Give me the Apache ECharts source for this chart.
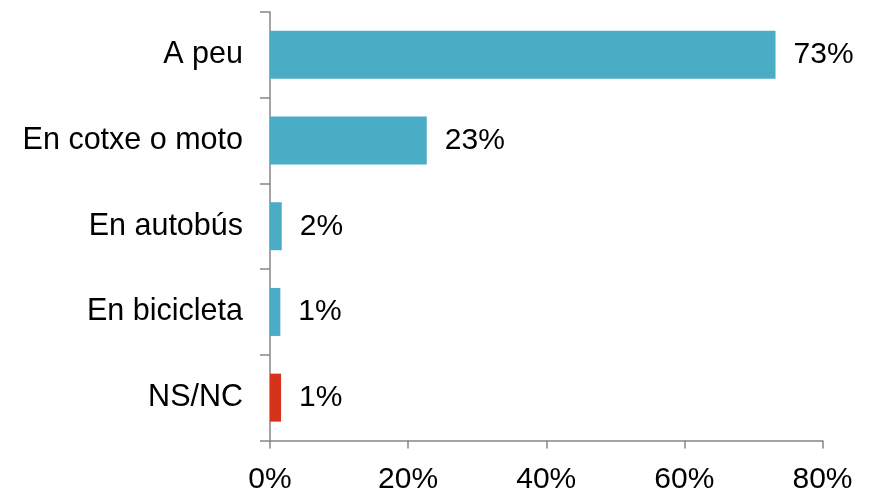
<!DOCTYPE html>
<html>
<head>
<meta charset="utf-8">
<script src="https://cdn.jsdelivr.net/npm/echarts@6/dist/echarts.min.js"></script>
<style>
html,body{margin:0;padding:0;background:#fff;}
#chart{width:873px;height:489px;}
</style>
</head>
<body>
<div id="chart"></div>
<script>
var categories = ['A peu', 'En cotxe o moto', 'En autobús', 'En bicicleta', 'NS/NC'];
var values = [73.2, 22.7, 1.7, 1.5, 1.6];
var valueLabels = ['73%', '23%', '2%', '1%', '1%'];
var barColors = ['#4BACC6', '#4BACC6', '#4BACC6', '#4BACC6', '#D7321A'];
var xTicks = [0, 20, 40, 60, 80];

var chart = echarts.init(document.getElementById('chart'));
var font = 'Liberation Sans, Arial, sans-serif';
chart.setOption({
  animation: false,
  backgroundColor: '#ffffff',
  grid: { left: 270, right: 50.5, top: 12, bottom: 48.5, containLabel: false, outerBoundsMode: 'none' },
  xAxis: {
    type: 'value',
    min: xTicks[0],
    max: xTicks[xTicks.length - 1],
    interval: 20,
    axisLine: { show: true, lineStyle: { color: '#868686', width: 1.5 } },
    axisTick: { show: true, length: 8, lineStyle: { color: '#868686', width: 1.5 } },
    splitLine: { show: false },
    axisLabel: { color: '#000', fontSize: 30, fontFamily: font, margin: 24, formatter: function (v) { return v + '%'; } }
  },
  yAxis: {
    type: 'category',
    data: categories,
    inverse: true,
    axisLine: { show: true, lineStyle: { color: '#868686', width: 1.5 } },
    axisTick: { show: true, length: 10, lineStyle: { color: '#868686', width: 1.5 } },
    axisLabel: { color: '#000', fontSize: 30.5, fontFamily: font, margin: 27 }
  },
  series: [{
    type: 'bar',
    barWidth: '56%',
    data: values.map(function (v, i) {
      return { value: v, itemStyle: { color: barColors[i] } };
    }),
    label: {
      show: true,
      position: 'right',
      distance: 18,
      color: '#000',
      fontSize: 30,
      fontFamily: font,
      formatter: function (p) { return valueLabels[p.dataIndex]; }
    }
  }]
});
</script>
</body>
</html>
